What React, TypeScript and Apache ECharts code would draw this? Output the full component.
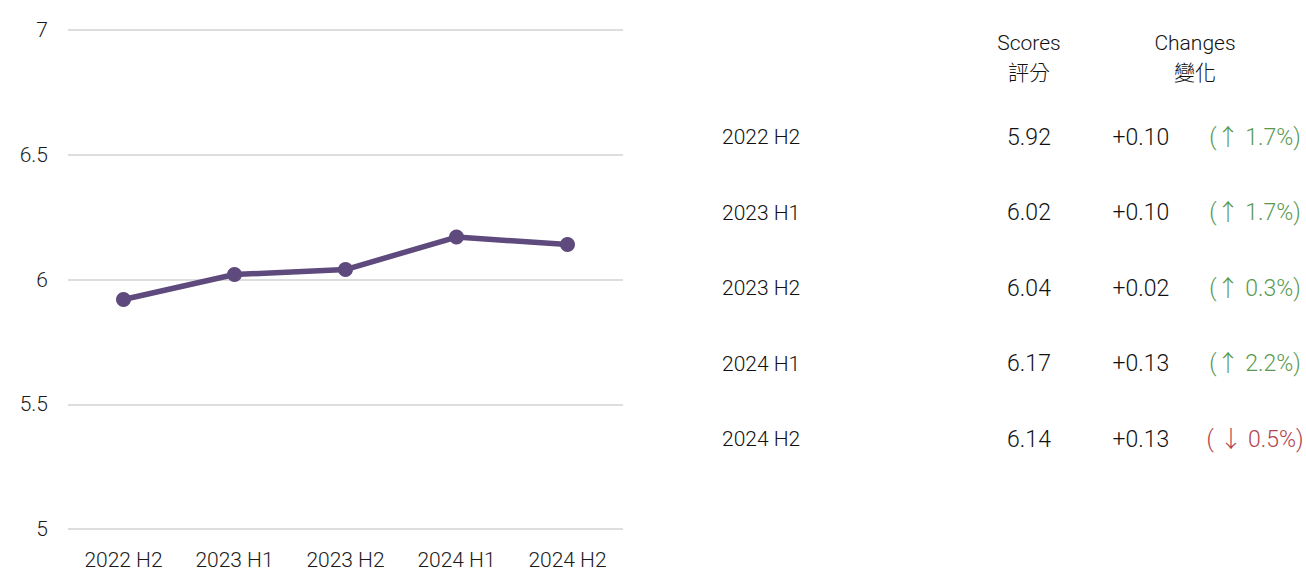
import React, { useEffect, useRef } from "react";
import * as echarts from "echarts";

const categories = ["2022 H2", "2023 H1", "2023 H2", "2024 H1", "2024 H2"];
const scores = [5.92, 6.02, 6.04, 6.17, 6.14];
const changes = ["+0.10", "+0.10", "+0.02", "+0.13", "+0.13"];
const percents = ["(↑ 1.7%)", "(↑ 1.7%)", "(↑ 0.3%)", "(↑ 2.2%)", "( ↓ 0.5%)"];
const directions = ["up", "up", "up", "up", "down"];
const headerScores = ["Scores", "評分"];
const headerChanges = ["Changes", "變化"];
const yTicks = { min: 5, max: 7, interval: 0.5 };

const FONT = "Roboto, 'Noto Sans CJK TC', sans-serif";
const TEXT = "#111111";
const GREEN = "#5a9a50";
const RED = "#b2434f";

export default function App() {
  const ref = useRef<HTMLDivElement>(null);
  useEffect(() => {
    if (!ref.current) return;
    const chart = echarts.init(ref.current, undefined, { renderer: "svg" });

    const graphics: any[] = [];
    const txt = (text: string, x: number, y: number, align: string, size: number, fill: string) => ({
      type: "text",
      x,
      y,
      style: {
        text,
        fill,
        font: `300 ${size}px ${FONT}`,
        textAlign: align,
        textVerticalAlign: "middle",
      },
    });
    headerScores.forEach((t, i) => graphics.push(txt(t, 1029, 43 + i * 30, "center", 21, TEXT)));
    headerChanges.forEach((t, i) => graphics.push(txt(t, 1195, 43 + i * 30, "center", 21, TEXT)));
    categories.forEach((c, i) => {
      const y = 137 + i * 75.5;
      graphics.push(txt(c, 722, y, "left", 21, TEXT));
      graphics.push(txt(scores[i].toFixed(2), 1029, y, "center", 23, TEXT));
      graphics.push(txt(changes[i], 1141, y, "center", 23, TEXT));
      graphics.push(
        txt(percents[i], 1255, y, "center", 23, directions[i] === "up" ? GREEN : RED)
      );
    });

    chart.setOption({
      animation: false,
      grid: { left: 68, right: 683, top: 30, bottom: 35, containLabel: false },
      xAxis: {
        type: "category",
        data: categories,
        boundaryGap: true,
        axisLine: { show: false },
        axisTick: { show: false },
        axisLabel: {
          color: "#1a1a1a",
          fontSize: 21,
          fontFamily: FONT,
          fontWeight: 300,
          margin: 20,
        },
      },
      yAxis: {
        type: "value",
        min: yTicks.min,
        max: yTicks.max,
        interval: yTicks.interval,
        axisLine: { show: false },
        axisTick: { show: false },
        axisLabel: {
          color: "#1a1a1a",
          fontSize: 21,
          fontFamily: FONT,
          fontWeight: 300,
          margin: 20,
        },
        splitLine: { lineStyle: { color: "#dddddd", width: 2 } },
      },
      series: [
        {
          type: "line",
          data: scores,
          symbol: "circle",
          symbolSize: 15,
          lineStyle: { color: "#5e4a7c", width: 5.5 },
          itemStyle: { color: "#5e4a7c" },
        },
      ],
      graphic: graphics,
    });
    return () => chart.dispose();
  }, []);
  return (
    <div
      ref={ref}
      style={{ position: "fixed", left: 0, top: 0, width: 1306, height: 570, background: "#fff" }}
    />
  );
}
